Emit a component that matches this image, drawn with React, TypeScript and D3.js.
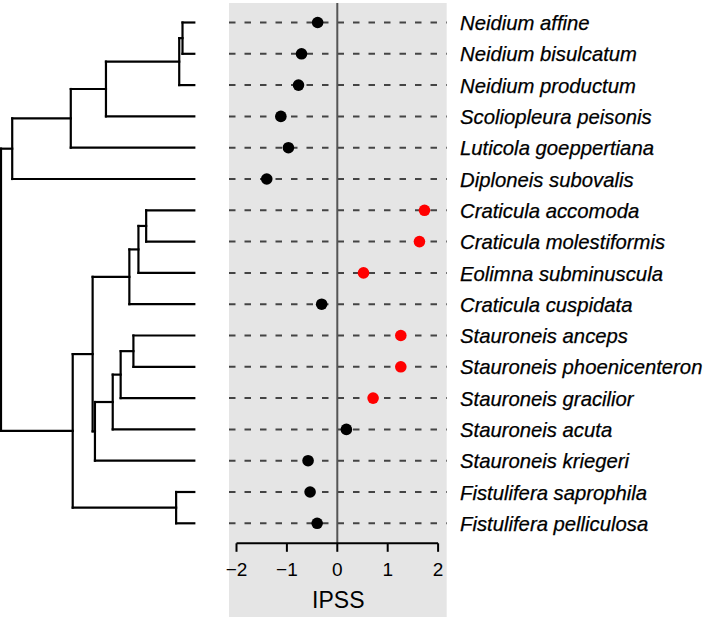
import React from "react";
import * as d3 from "d3";

const species = [
  "Neidium affine",
  "Neidium bisulcatum",
  "Neidium productum",
  "Scoliopleura peisonis",
  "Luticola goeppertiana",
  "Diploneis subovalis",
  "Craticula accomoda",
  "Craticula molestiformis",
  "Eolimna subminuscula",
  "Craticula cuspidata",
  "Stauroneis anceps",
  "Stauroneis phoenicenteron",
  "Stauroneis gracilior",
  "Stauroneis acuta",
  "Stauroneis kriegeri",
  "Fistulifera saprophila",
  "Fistulifera pelliculosa",
];

const ipss = [
  -0.39, -0.71, -0.77, -1.12, -0.97, -1.4, 1.73, 1.63, 0.52, -0.31, 1.26, 1.26,
  0.71, 0.18, -0.58, -0.54, -0.4,
];

const highlighted = [
  false, false, false, false, false, false, true, true, true, false, true, true,
  true, false, false, false, false,
];

const tipParents = [
  "n5", "n5", "n4", "n3", "n2", "n1", "n10", "n10", "n9", "n8", "n14", "n14",
  "n13", "n12", "n11", "n15", "n15",
];

const innerIds = [
  "root", "n1", "n2", "n3", "n4", "n5", "n6", "n7", "n8", "n9", "n10", "n11",
  "n12", "n13", "n14", "n15",
];
const innerParents = [
  "", "root", "n1", "n2", "n3", "n4", "root", "n6", "n7", "n8", "n9", "n7",
  "n11", "n12", "n13", "n6",
];
const innerDepths = [
  0, 0.058, 0.361, 0.543, 0.922, 0.939, 0.371, 0.474, 0.664, 0.711, 0.751,
  0.486, 0.578, 0.619, 0.685, 0.906,
];
const tipDepth = 1.0;

const xTicks = [-2, -1, 0, 1, 2];
const xLabel = "IPSS";

const W = 709;
const H = 618;

type TNode = { id: string; parentId: string | null; depth: number; tip: number };

export default function App() {
  const rows = d3
    .scaleLinear()
    .domain([0, species.length - 1])
    .range([22.5, 523.3]);
  const xTree = d3.scaleLinear().domain([0, tipDepth]).range([1, 194.3]);
  const x = d3.scaleLinear().domain([-2, 2]).range([236.5, 438.1]);

  const records: TNode[] = [
    ...innerIds.map((id, i) => ({
      id,
      parentId: innerParents[i] || null,
      depth: innerDepths[i],
      tip: -1,
    })),
    ...species.map((s, i) => ({ id: s, parentId: tipParents[i], depth: tipDepth, tip: i })),
  ];
  const root = d3
    .stratify<TNode>()
    .id((d) => d.id)
    .parentId((d) => d.parentId)(records);

  const yOf = new Map<string, number>();
  root.eachAfter((n) => {
    if (!n.children) yOf.set(n.data.id, rows(n.data.tip));
    else yOf.set(n.data.id, d3.mean(n.children, (c) => yOf.get(c.data.id)!)!);
  });

  const treeLines: { x1: number; y1: number; x2: number; y2: number }[] = [];
  root.each((n) => {
    const y = yOf.get(n.data.id)!;
    if (n.parent) {
      treeLines.push({
        x1: xTree(n.parent.data.depth),
        y1: y,
        x2: xTree(n.data.depth),
        y2: y,
      });
    }
    if (n.children) {
      const ys = n.children.map((c) => yOf.get(c.data.id)!);
      treeLines.push({
        x1: xTree(n.data.depth),
        y1: d3.min(ys)!,
        x2: xTree(n.data.depth),
        y2: d3.max(ys)!,
      });
    }
  });

  const panelL = 229;
  const panelR = 446.7;
  const panelT = 3;
  const panelB = 617;
  const axisY = 543.3;
  const font = "'Liberation Sans', Arial, Helvetica, sans-serif";

  return (
    <svg
      width={W}
      height={H}
      viewBox={`0 0 ${W} ${H}`}
      style={{ position: "absolute", left: 0, top: 0, background: "#fff" }}
    >
      <rect x={panelL} y={panelT} width={panelR - panelL} height={panelB - panelT} fill="#E5E5E5" />
      {species.map((s, i) => (
        <line
          key={"d" + s}
          x1={panelL}
          x2={panelR}
          y1={rows(i)}
          y2={rows(i)}
          stroke="#444"
          strokeWidth={2}
          strokeDasharray="6.5,9"
        />
      ))}
      <line x1={x(0)} x2={x(0)} y1={panelT} y2={axisY} stroke="#555" strokeWidth={2} />
      {treeLines.map((l, i) => (
        <line
          key={"t" + i}
          x1={l.x1}
          y1={l.y1}
          x2={l.x2}
          y2={l.y2}
          stroke="#000"
          strokeWidth={2.2}
          strokeLinecap="square"
        />
      ))}
      {species.map((s, i) => (
        <circle
          key={"c" + s}
          cx={x(ipss[i])}
          cy={rows(i)}
          r={5.8}
          fill={highlighted[i] ? "#FF0000" : "#000"}
        />
      ))}
      {species.map((s, i) => (
        <text
          key={"l" + s}
          x={460}
          y={rows(i) + 7.6}
          fontFamily={font}
          fontStyle="italic"
          fontSize={20.3}
          fill="#000"
          stroke="#000"
          strokeWidth={0.25}
        >
          {s}
        </text>
      ))}
      <line x1={x(-2)} x2={x(2)} y1={axisY} y2={axisY} stroke="#000" strokeWidth={2} />
      {xTicks.map((t) => (
        <g key={"x" + t}>
          <line x1={x(t)} x2={x(t)} y1={axisY} y2={axisY + 8.5} stroke="#000" strokeWidth={2} />
          <text
            x={x(t)}
            y={575.5}
            textAnchor="middle"
            fontFamily={font}
            fontSize={19}
            fill="#000"
          >
            {t < 0 ? "\u2212" + Math.abs(t) : String(t)}
          </text>
        </g>
      ))}
      <text
        x={x(0) + 1}
        y={608}
        textAnchor="middle"
        fontFamily={font}
        fontSize={23}
        fill="#000"
      >
        {xLabel}
      </text>
    </svg>
  );
}
